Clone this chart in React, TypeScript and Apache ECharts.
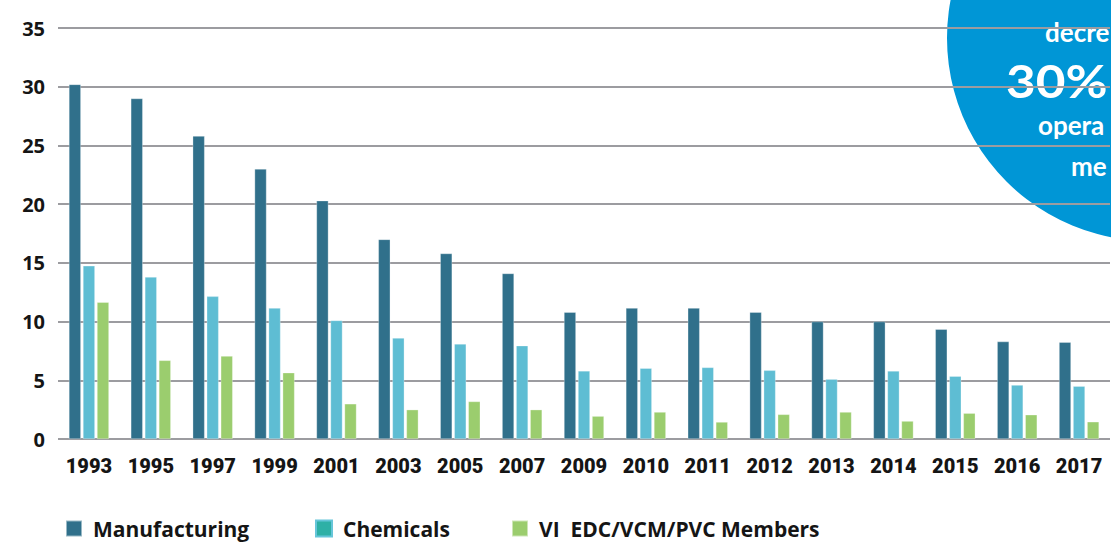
import React, { useEffect, useRef } from "react";
import * as echarts from "echarts";

const years = ["1993", "1995", "1997", "1999", "2001", "2003", "2005", "2007", "2009", "2010", "2011", "2012", "2013", "2014", "2015", "2016", "2017"];
const manufacturing = [30.2, 29.0, 25.8, 23.0, 20.3, 17.0, 15.8, 14.1, 10.8, 11.15, 11.15, 10.8, 10.0, 10.0, 9.35, 8.3, 8.25];
const chemicals = [14.75, 13.8, 12.15, 11.15, 10.1, 8.6, 8.1, 7.95, 5.8, 6.03, 6.1, 5.85, 5.1, 5.8, 5.35, 4.6, 4.5];
const vinylMembers = [11.65, 6.7, 7.07, 5.65, 3.0, 2.5, 3.2, 2.5, 1.95, 2.3, 1.45, 2.1, 2.3, 1.53, 2.2, 2.07, 1.47];
const seriesNames = ["Manufacturing", "Chemicals", "VI  EDC/VCM/PVC Members"];
// callout text as visible in the picture (the circle runs off the right edge)
const calloutLines = ["decre", "30%", "opera", "me"];

const COLORS = ["#30708b", "#5ebdd3", "#9bcd6e"];
const TEXT = "#151515";

export default function App() {
  const ref = useRef<HTMLDivElement>(null);

  useEffect(() => {
    if (!ref.current) return;
    const chart = echarts.init(ref.current, null, { renderer: "svg" });
    const legendText = {
      fontFamily: "'Open Sans', sans-serif",
      fontWeight: "bold" as const,
      fontSize: 21,
      color: TEXT,
      padding: [0, 0, 0, 6],
    };
    const bar = (name: string, data: number[], color: string) => ({
      name,
      type: "bar",
      data,
      barWidth: 12,
      barGap: "17%",
      itemStyle: { color, borderColor: "rgba(255,255,255,0.5)", borderWidth: 0.6 },
    });
    const calloutFont = (size: number) => `bold ${size}px Lato, 'Open Sans', sans-serif`;
    chart.setOption({
      animation: false,
      backgroundColor: "#ffffff",
      grid: { left: 58, right: 1, top: 28, bottom: 103, containLabel: false },
      xAxis: {
        type: "category",
        data: years,
        axisLine: { show: false },
        axisTick: { show: false },
        axisLabel: {
          interval: 0,
          margin: 17,
          color: TEXT,
          fontSize: 20,
          fontWeight: 900,
          fontFamily: "Roboto, 'Liberation Sans', sans-serif",
        },
      },
      yAxis: {
        type: "value",
        min: 0,
        max: 35,
        interval: 5,
        axisLine: { show: false },
        axisTick: { show: false },
        splitLine: { lineStyle: { color: "#9c9ca0", width: 2 } },
        axisLabel: {
          margin: 13,
          color: TEXT,
          fontSize: 20,
          fontWeight: "bold",
          fontFamily: "'Open Sans', sans-serif",
          padding: [0, 0, 12, 0],
        },
      },
      legend: [
        {
          left: 65, top: 518, padding: 0, itemWidth: 16, itemHeight: 16, selectedMode: false,
          data: [{ name: seriesNames[0], icon: "rect" }], textStyle: legendText,
        },
        {
          left: 315, top: 518, padding: 0, itemWidth: 16, itemHeight: 16, selectedMode: false,
          data: [{ name: seriesNames[1], icon: "rect", itemStyle: { color: "#2eb0a6", borderColor: "#66c5d9", borderWidth: 2 } }],
          textStyle: legendText,
        },
        {
          left: 511, top: 518, padding: 0, itemWidth: 16, itemHeight: 16, selectedMode: false,
          data: [{ name: seriesNames[2], icon: "rect" }], textStyle: legendText,
        },
      ],
      series: [
        bar(seriesNames[0], manufacturing, COLORS[0]),
        bar(seriesNames[1], chemicals, COLORS[1]),
        bar(seriesNames[2], vinylMembers, COLORS[2]),
      ],
      graphic: [
        {
          type: "group",
          z: 100,
          children: [
            { type: "circle", shape: { cx: 1150, cy: 38, r: 203 }, style: { fill: "#0096d6" } },
            {
              type: "text", x: 1045, y: 32,
              style: { text: calloutLines[0], fill: "#ffffff", font: calloutFont(26), textAlign: "left", textVerticalAlign: "middle" },
            },
            {
              type: "text", x: 1006, y: 80, scaleX: 1.14,
              style: { text: calloutLines[1], fill: "#ffffff", font: calloutFont(45), textAlign: "left", textVerticalAlign: "middle" },
            },
            {
              type: "text", x: 1038, y: 125,
              style: { text: calloutLines[2], fill: "#ffffff", font: calloutFont(26), textAlign: "left", textVerticalAlign: "middle" },
            },
            {
              type: "text", x: 1071, y: 166,
              style: { text: calloutLines[3], fill: "#ffffff", font: calloutFont(26), textAlign: "left", textVerticalAlign: "middle" },
            },
          ],
        },
      ],
    });
    return () => chart.dispose();
  }, []);

  return (
    <div
      ref={ref}
      style={{ position: "fixed", left: 0, top: 0, width: 1111, height: 542, overflow: "hidden", background: "#fff" }}
    />
  );
}
